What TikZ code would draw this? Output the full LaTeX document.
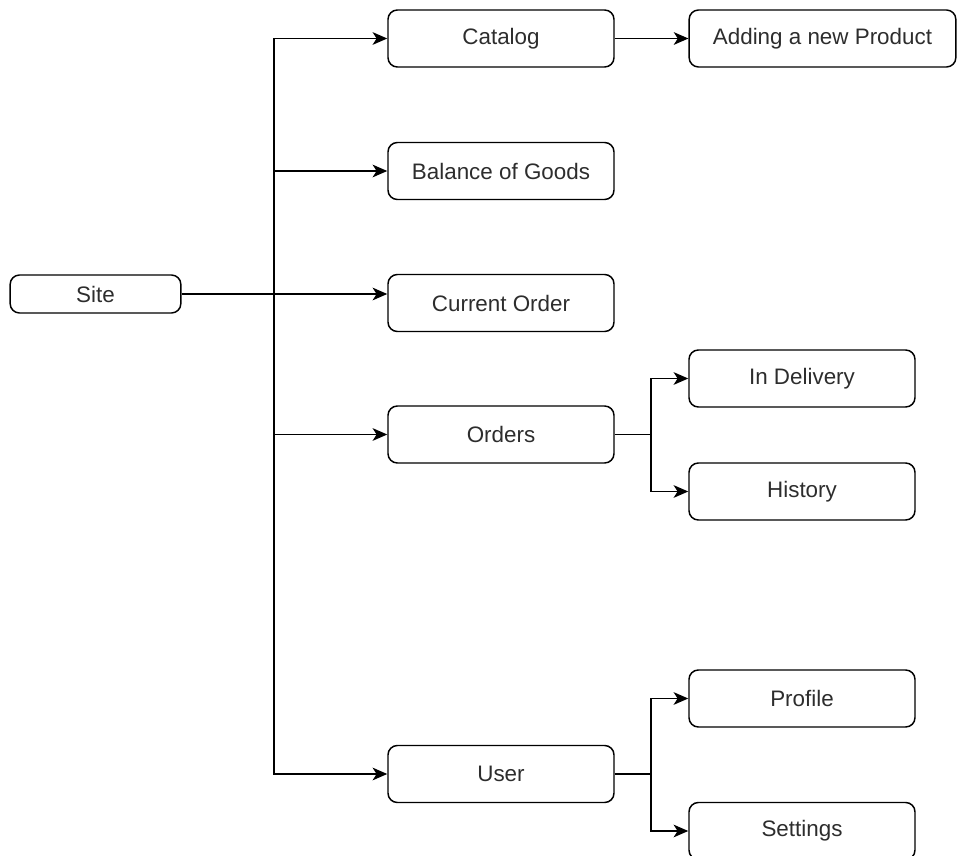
\documentclass[tikz,border=0pt]{standalone}
\usepackage{fontspec}
\setmainfont{Liberation Sans}
\usepackage{tikz}
\usetikzlibrary{arrows.meta,positioning,calc}
\definecolor{boxtext}{RGB}{45,45,45}

\tikzset{
  item/.style={draw,rounded corners=7pt,line width=1.1pt,text=boxtext,
               minimum width=169.5pt,minimum height=42.75pt,inner sep=0pt},
  root/.style={item,minimum width=128pt,minimum height=28.5pt},
  wide/.style={item,minimum width=200pt},
  link/.style={line width=1.1pt}
}

\begin{document}
\begin{tikzpicture}[x=0.75pt,y=-0.75pt,font=\fontsize{16.8}{20}\selectfont,
                    >={Stealth[length=11pt,width=9.5pt,inset=3pt]}]
\useasboundingbox (0,0) rectangle (958,856);
% root and first level
\node[root] (site) at (95.5,294) {Site};
\node[item] (catalog) at (501,38.5) {Catalog};
\node[item] (balance) at (501,171) {Balance of Goods};
\node[item] (current) at (501,303) {Current Order};
\node[item] (orders)  at (501,434.5) {Orders};
\node[item] (user)    at (501,774) {User};
% second level
\node[wide] (adding)     at (822.5,38.5) {Adding a new Product};
\node[item] (indelivery) at (802,378.5) {In Delivery};
\node[item] (history)    at (802,491.5) {History};
\node[item] (profile)    at (802,698.5) {Profile};
\node[item] (settings)   at (802,831) {Settings};
% trunk from site
\coordinate (hub) at (274,294);
\draw[link,->] (site.east) -- (current.west |- site.east);
\foreach \n in {catalog,balance,orders,user}
  \draw[link,->] (hub) |- (\n.west);
\draw[link,->] (catalog.east) -- (adding.west);
% orders and user branches
\coordinate (ohub) at (651,434.5);
\coordinate (uhub) at (651,774);
\draw[link] (orders.east) -- (ohub);
\draw[link] (user.east) -- (uhub);
\foreach \n in {indelivery,history}
  \draw[link,->] (ohub) |- (\n.west);
\foreach \n in {profile,settings}
  \draw[link,->] (uhub) |- (\n.west);
\end{tikzpicture}
\end{document}
